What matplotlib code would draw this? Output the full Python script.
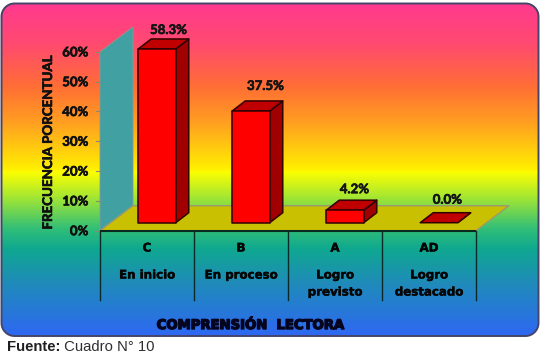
import numpy as np
import matplotlib
matplotlib.use("Agg")
import matplotlib.pyplot as plt
from matplotlib.colors import LinearSegmentedColormap
from matplotlib.patches import PathPatch, Polygon
from matplotlib.path import Path
from matplotlib.transforms import IdentityTransform
import matplotlib.patheffects as pe

# Chart data
codes = ["C", "B", "A", "AD"]
levels = ["En inicio", "En proceso", "Logro\nprevisto", "Logro\ndestacado"]
values = [58.3, 37.5, 4.2, 0.0]
y_ticks = [0, 10, 20, 30, 40, 50, 60]
y_title = "FRECUENCIA PORCENTUAL"
x_title = "COMPRENSIÓN  LECTORA"

W, H = 545, 357
PX_X = 94.0    # pixels per category
PX_Y = 2.98    # pixels per percentage point
X0, Y0 = 100.0, 230.7  # pixel position of the axes origin

fig = plt.figure(figsize=(W / 100, H / 100), dpi=100, facecolor="white")
ax = fig.add_axes([0, 0, 1, 1])
ax.set_xlim(-X0 / PX_X, (W - X0) / PX_X)
ax.set_ylim((Y0 - H) / PX_Y, Y0 / PX_Y)
ax.axis("off")


def dx(px):
    return px / PX_X


def dy(px):
    return px / PX_Y


def xp(px):
    return (px - X0) / PX_X


def yp(px):
    return (Y0 - px) / PX_Y


# Rounded panel outline, built in display units so the corners stay circular
l, r, t, b = 1.5, 538.5, H - 3.5, H - 336.0
rad = 13
k = rad * 0.45
verts = [(l + rad, b), (r - rad, b), (r - k, b), (r, b + k), (r, b + rad),
         (r, t - rad), (r, t - k), (r - k, t), (r - rad, t),
         (l + rad, t), (l + k, t), (l, t - k), (l, t - rad),
         (l, b + rad), (l, b + k), (l + k, b), (l + rad, b), (l + rad, b)]
path_codes = [Path.MOVETO, Path.LINETO, Path.CURVE4, Path.CURVE4, Path.CURVE4,
              Path.LINETO, Path.CURVE4, Path.CURVE4, Path.CURVE4,
              Path.LINETO, Path.CURVE4, Path.CURVE4, Path.CURVE4,
              Path.LINETO, Path.CURVE4, Path.CURVE4, Path.CURVE4, Path.CLOSEPOLY]
panel_path = Path(verts, path_codes)

# Vertical rainbow gradient clipped to the panel
stops = [(0.00, "#FF3A8E"), (0.12, "#FF4A70"), (0.25, "#FF6E35"), (0.36, "#FFA020"),
         (0.50, "#FFF000"), (0.505, "#FFFF00"), (0.58, "#A8E830"), (0.68, "#30BE78"),
         (0.74, "#0FA890"), (0.84, "#1F8CB8"), (1.00, "#2E68F2")]
cmap = LinearSegmentedColormap.from_list("panel", stops)
grad = np.linspace(0, 1, 400).reshape(-1, 1)
img = ax.imshow(grad, cmap=cmap, aspect="auto", interpolation="bilinear",
                extent=(xp(l), xp(r), yp(336), yp(3.5)), origin="upper", zorder=1)
clip = PathPatch(panel_path, transform=IdentityTransform(), fc="none", ec="none")
ax.add_artist(clip)
img.set_clip_path(clip)
ax.set_xlim(-X0 / PX_X, (W - X0) / PX_X)
ax.set_ylim((Y0 - H) / PX_Y, Y0 / PX_Y)
ax.add_artist(PathPatch(panel_path, transform=IdentityTransform(), fc="none",
                        ec="#45456A", lw=1.4, zorder=2))

# Thickened strokes give the heavy look of the labels
heavy = [pe.withStroke(linewidth=0.45, foreground="#101010")]

# Back wall and floor of the 3D box
DEPTH_X, DEPTH_Y = dx(33), dy(25)
n = len(values)
ax.add_patch(Polygon([(0, 0), (DEPTH_X, DEPTH_Y), (DEPTH_X, 60 + DEPTH_Y), (0, 60)],
                     fc="#41A0A2", ec="#8A9A90", lw=0.6, zorder=3))
ax.add_patch(Polygon([(0, 0), (n, 0), (n + DEPTH_X, DEPTH_Y), (DEPTH_X, DEPTH_Y)],
                     fc="#C8C000", ec="#9A9A70", lw=1.0, zorder=3))

# Value axis ticks and labels
for v in y_ticks:
    ax.plot([dx(-4), 0], [v, v], color="#8A8A70", lw=0.8, zorder=3)
    ax.text(dx(-11.5), v - dy(0.5), f"{v}%", ha="right", va="center", fontsize=9.5,
            family="Lato", weight="bold", color="#101010", zorder=6, path_effects=heavy)
ax.text(xp(48), yp(142), y_title, rotation=90, ha="center", va="center", fontsize=9.6,
        family="Lato", weight="bold", color="#101010", zorder=6, path_effects=heavy)

# Bars with front, top and side faces
BAR_W = dx(37.5)
BAR_SHIFT_X, BAR_SHIFT_Y = dx(10), dy(8)
BAR_DX, BAR_DY = dx(13), dy(10)
# Value labels were placed by hand, so each carries its own offset in pixels
label_nudge = [(5, -5), (8, 1), (3, -3), (2, -1)]
for i, v in enumerate(values):
    x0 = i + 0.5 + BAR_SHIFT_X - BAR_W / 2
    x1 = x0 + BAR_W
    y0 = BAR_SHIFT_Y
    y1 = y0 + v
    edge = dict(ec="#300000", lw=1.1, joinstyle="round", zorder=5)
    ax.add_patch(Polygon([(x1, y0), (x1 + BAR_DX, y0 + BAR_DY), (x1 + BAR_DX, y1 + BAR_DY), (x1, y1)],
                         fc="#A00000", **edge))
    ax.add_patch(Polygon([(x0, y1), (x1, y1), (x1 + BAR_DX, y1 + BAR_DY), (x0 + BAR_DX, y1 + BAR_DY)],
                         fc="#C00000", **edge))
    if v > 0:
        ax.add_patch(Polygon([(x0, y0), (x1, y0), (x1, y1), (x0, y1)], fc="#FF0000", **edge))
    nx, ny = label_nudge[i]
    ax.text((x0 + x1 + BAR_DX) / 2 + dx(nx), y1 + BAR_DY + dy(14) + dy(ny), f"{v:.1f}%",
            ha="center", va="center", fontsize=9.5, family="Lato", weight="bold",
            color="#151515", zorder=6, path_effects=heavy)

# Category table below the floor
ax.plot([0, n], [0, 0], color="#0A2A20", lw=1.5, zorder=4, solid_capstyle="butt")
for i in range(n + 1):
    ax.plot([i, i], [0, yp(300)], color="#0A2A2A", lw=1.0, zorder=4)
cat_style = dict(ha="center", va="center", fontsize=8.5, family="DejaVu Sans", weight="bold",
                 color="#050505", zorder=6, path_effects=[pe.withStroke(linewidth=0.3, foreground="#050505")])
for i in range(n):
    ax.text(i + 0.5, yp(248), codes[i], **cat_style)
    first, _, second = levels[i].partition("\n")
    ax.text(i + 0.5, yp(275), first, **cat_style)
    if second:
        ax.text(i + 0.5, yp(292), second, **cat_style)

# Axis title and source note
ax.text(xp(251), yp(325.5), x_title, ha="center", va="center", fontsize=9.5,
        family="DejaVu Sans", weight="bold", color="#050520", zorder=6,
        path_effects=[pe.withStroke(linewidth=1.0, foreground="#050520")])
src = ax.annotate("Fuente:", xy=(xp(6.5), yp(347)), ha="left", va="center", fontsize=10.7,
                  family="Liberation Sans", weight="bold", color="#202020", zorder=6)
ax.annotate(" Cuadro N° 10", xy=(1, 0), xycoords=src, va="bottom", ha="left", fontsize=10.7,
            family="Liberation Sans", color="#303030", zorder=6)

fig.savefig("out.png", dpi=100, facecolor="white")
